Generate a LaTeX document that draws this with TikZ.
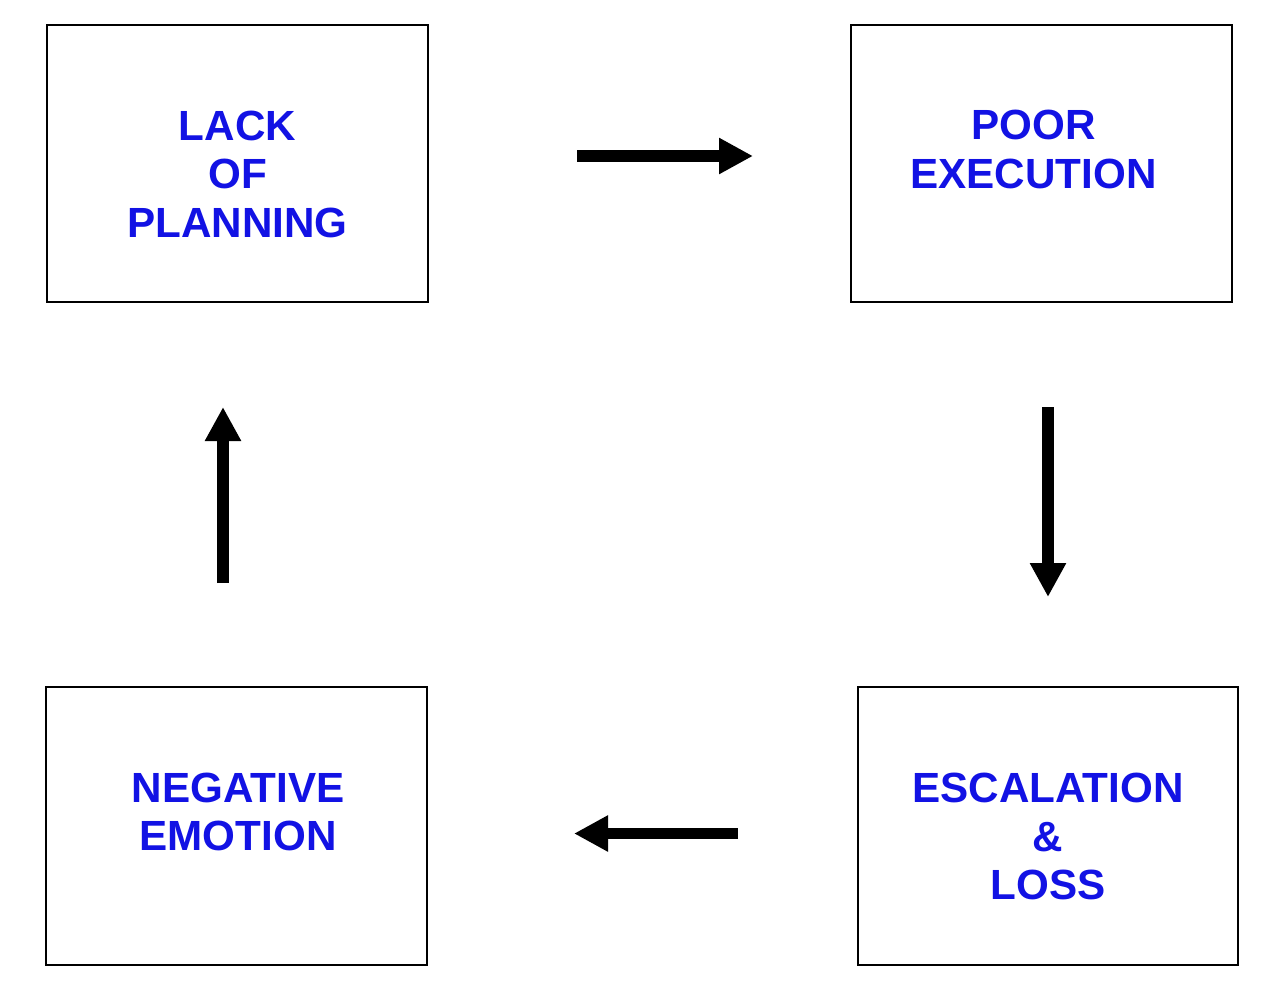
\documentclass[tikz,border=0pt]{standalone}
\usepackage{fontspec}
\setmainfont{Liberation Sans}
\usetikzlibrary{arrows.meta}
\definecolor{txtblue}{RGB}{18,18,228}
\begin{document}
\begin{tikzpicture}[x=1pt,y=-1pt,
  box/.style={draw=black,line width=2pt,minimum width=381pt,minimum height=277pt,inner sep=0pt},
  lbl/.style={text=txtblue,font=\fontsize{42.2}{48.5}\selectfont\bfseries,align=center,inner sep=0pt},
  flow/.style={line width=11.5pt,-{Triangle[length=34pt,width=34pt]}}]
\useasboundingbox[fill=white] (0,0) rectangle (1284,1005);
% boxes
\node[box] (b1) at (237.5,163.5) {};
\node[box] (b2) at (1041.5,163.5) {};
\node[box,minimum width=380pt,minimum height=278pt] (b3) at (1048,826) {};
\node[box,minimum height=278pt] (b4) at (236.5,826) {};
% texts
\node[lbl] (t1) at (237.5,174) {LACK\\OF\\PLANNING};
\node[lbl] (t2) at (1033.5,149.5) {POOR\\EXECUTION};
\node[lbl] (t3) at (1048,836.5) {ESCALATION\\\&\\LOSS};
\node[lbl] (t4) at (238,812) {NEGATIVE\\EMOTION};
% arrow end points
\coordinate (a1s) at (577,156);
\coordinate (a1e) at (753,156);
\coordinate (a2s) at (1048,407);
\coordinate (a2e) at (1048,597);
\coordinate (a3s) at (738,833.5);
\coordinate (a3e) at (574,833.5);
\coordinate (a4s) at (223,583);
\coordinate (a4e) at (223,407);
\draw[flow] (a1s) -- (a1e);
\draw[flow] (a2s) -- (a2e);
\draw[flow] (a3s) -- (a3e);
\draw[flow] (a4s) -- (a4e);
\end{tikzpicture}
\end{document}
